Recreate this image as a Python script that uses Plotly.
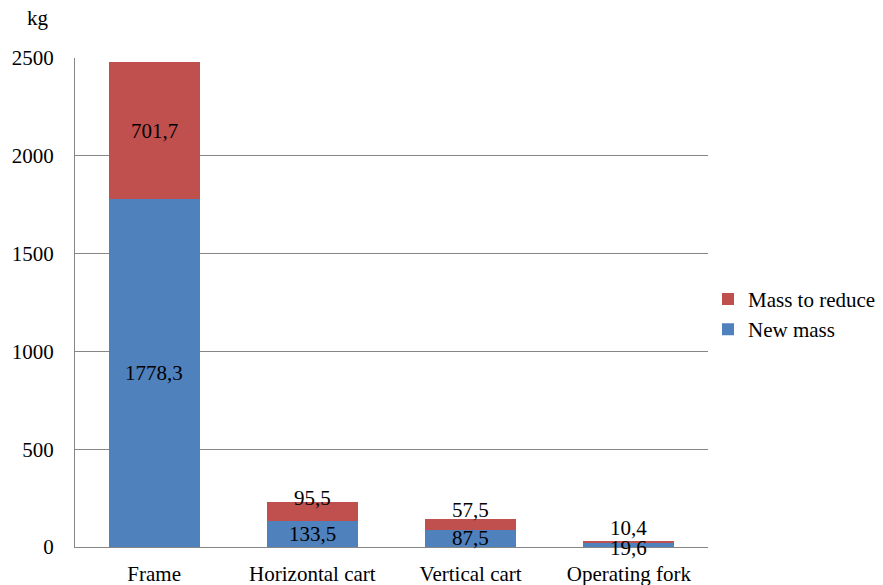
import plotly.graph_objects as go

categories = ["Frame", "Horizontal cart", "Vertical cart", "Operating fork"]
new_mass = [1778.3, 133.5, 87.5, 19.6]
mass_to_reduce = [701.7, 95.5, 57.5, 10.4]
y_ticks = [0, 500, 1000, 1500, 2000, 2500]

BLUE = "#4F81BD"
RED = "#C0504D"
FONT = "Liberation Serif"

def fmt(v):
    return f"{v:.1f}".replace(".", ",")

fig = go.Figure()
fig.add_trace(go.Bar(x=categories, y=new_mass, name="New mass",
                     marker=dict(color=BLUE, line=dict(width=0)), width=0.575))
fig.add_trace(go.Bar(x=categories, y=mass_to_reduce, name="Mass to reduce",
                     marker=dict(color=RED, line=dict(width=0)), width=0.575))

annotations = []
for c, nm, mr in zip(categories, new_mass, mass_to_reduce):
    small = mr < 150
    annotations.append(dict(x=c, y=nm / 2, text=fmt(nm), showarrow=False,
                            yshift=-3 if nm < 50 else 0,
                            font=dict(family=FONT, size=21, color="black")))
    annotations.append(dict(x=c, y=nm + mr / 2, text=fmt(mr), showarrow=False,
                            yshift=14 if small else 0,
                            font=dict(family=FONT, size=21, color="black")))
annotations.append(dict(x=(38 - 75) / 633, y=(547 - 18) / 489, xref="paper", yref="paper",
                        xanchor="center", yanchor="middle",
                        text="kg", showarrow=False,
                        font=dict(family=FONT, size=21, color="black")))

fig.update_layout(
    barmode="stack",
    width=883, height=585,
    margin=dict(l=75, r=175, t=58, b=38, autoexpand=False),
    paper_bgcolor="white", plot_bgcolor="white",
    font=dict(family=FONT, size=21, color="black"),
    bargap=0.425,
    xaxis=dict(showline=True, linecolor="#868686", linewidth=1,
               ticks="", tickfont=dict(family=FONT, size=21, color="black"),
               ticklabelstandoff=8, automargin=False),
    yaxis=dict(range=[0, 2500], tickvals=y_ticks, showgrid=True,
               gridcolor="#868686", gridwidth=1, showline=True,
               linecolor="#868686", linewidth=1, zeroline=False,
               ticks="", ticklabelstandoff=16, automargin=False,
               tickfont=dict(family=FONT, size=21, color="black")),
    legend=dict(x=1.0, y=0.476, xanchor="left", yanchor="middle",
                traceorder="reversed", font=dict(family=FONT, size=21, color="black"),
                itemwidth=30, tracegroupgap=0),
    annotations=annotations,
)

fig.write_html("out.html")
